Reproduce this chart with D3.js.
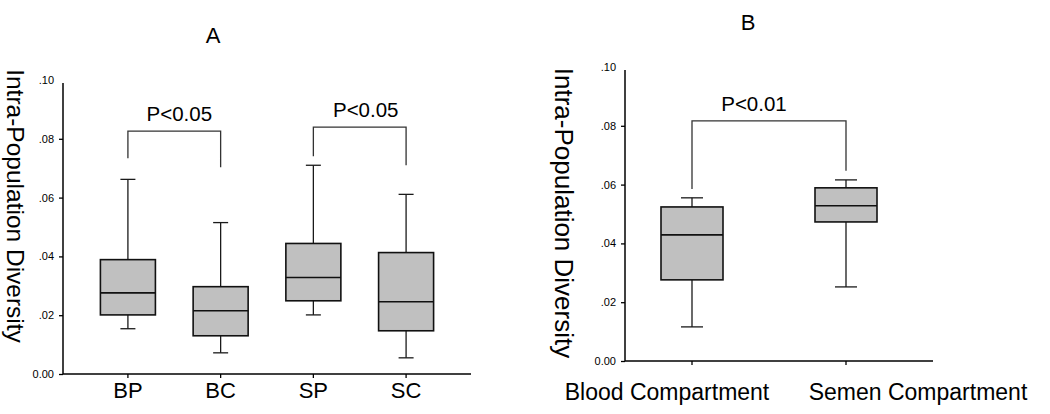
<!DOCTYPE html>
<html>
<head>
<meta charset="utf-8">
<script src="https://cdn.jsdelivr.net/npm/d3@7"></script>
<style>
  html, body { margin: 0; padding: 0; background: #fff; }
  svg { display: block; }
  text { font-family: Arial, "Liberation Sans", sans-serif; fill: #000; }
</style>
</head>
<body>
<svg id="chart" width="1050" height="414"></svg>
<script>
// ---------- Data ----------
const yTicks = [0, 0.02, 0.04, 0.06, 0.08, 0.10];
const yTickLabels = ["0.00", ".02", ".04", ".06", ".08", ".10"];

// Panel A
const catsA = ["BP", "BC", "SP", "SC"];
const lowA  = [0.0154, 0.0072, 0.0201, 0.0055];
const q1A   = [0.0201, 0.0130, 0.0249, 0.0147];
const medA  = [0.0276, 0.0215, 0.0328, 0.0246];
const q3A   = [0.0389, 0.0297, 0.0444, 0.0413];
const highA = [0.0662, 0.0515, 0.0710, 0.0611];
const bracketFromA  = ["BP", "SP"];
const bracketToA    = ["BC", "SC"];
const bracketTopA   = [0.0826, 0.0840];
const bracketLeftA  = [0.0734, 0.0741];
const bracketRightA = [0.0703, 0.0710];
const bracketLabelA = ["P<0.05", "P<0.05"];

// Panel B
const catsB = ["Blood Compartment", "Semen Compartment"];
const lowB  = [0.0116, 0.0252];
const q1B   = [0.0276, 0.0473];
const medB  = [0.0429, 0.0528];
const q3B   = [0.0524, 0.0589];
const highB = [0.0555, 0.0616];
const bracketFromB  = ["Blood Compartment"];
const bracketToB    = ["Semen Compartment"];
const bracketTopB   = [0.0817];
const bracketLeftB  = [0.0585];
const bracketRightB = [0.0647];
const bracketLabelB = ["P<0.01"];

const svg = d3.select("#chart");

function drawPanel(cfg) {
  const g = svg.append("g");
  const x = d3.scalePoint().domain(cfg.cats).range(cfg.xRange).padding(cfg.xPad);
  const y = d3.scaleLinear().domain([0, 0.10]).range([cfg.y0, cfg.y10]);

  // y axis
  const yAxis = d3.axisLeft(y).tickValues(yTicks)
    .tickFormat((d, i) => yTickLabels[i]).tickSize(4).tickPadding(5);
  const ya = g.append("g").attr("transform", `translate(${cfg.xAxis[0]},0)`).call(yAxis);
  ya.select(".domain").remove();
  ya.selectAll(".tick line").attr("stroke", "#000").attr("stroke-width", 1.3)
    .filter(d => d === 0.10).remove();
  ya.selectAll(".tick text").style("font-size", "11px")
    .attr("font-family", "Arial, 'Liberation Sans', sans-serif").attr("fill", "#000");
  g.append("line").attr("x1", cfg.xAxis[0]).attr("x2", cfg.xAxis[0])
    .attr("y1", y(0)).attr("y2", y(0.10) + cfg.axisTopGap)
    .attr("stroke", "#000").attr("stroke-width", 1.5);

  // x axis
  g.append("line").attr("x1", cfg.xAxis[0]).attr("x2", cfg.xAxis[1])
    .attr("y1", y(0)).attr("y2", y(0)).attr("stroke", "#000").attr("stroke-width", 1.5);
  g.selectAll(".xt").data(cfg.cats).join("line")
    .attr("x1", d => x(d)).attr("x2", d => x(d))
    .attr("y1", y(0)).attr("y2", y(0) + 4).attr("stroke", "#000").attr("stroke-width", 1.3);
  g.selectAll(".xl").data(cfg.cats).join("text")
    .attr("x", (d, i) => x(d) + cfg.labelDx[i]).attr("y", y(0) + cfg.labelDy)
    .attr("text-anchor", "middle").style("font-size", cfg.labelSize + "px")
    .text(d => d);

  // boxes
  const bw = cfg.boxW, cw = cfg.capW;
  cfg.cats.forEach((c, i) => {
    const cx = x(c);
    const lw = 1.3;
    g.append("line").attr("x1", cx).attr("x2", cx).attr("y1", y(cfg.high[i])).attr("y2", y(cfg.q3[i]))
      .attr("stroke", "#1a1a1a").attr("stroke-width", lw);
    g.append("line").attr("x1", cx).attr("x2", cx).attr("y1", y(cfg.q1[i])).attr("y2", y(cfg.low[i]))
      .attr("stroke", "#1a1a1a").attr("stroke-width", lw);
    g.append("line").attr("x1", cx - cw / 2).attr("x2", cx + cw / 2).attr("y1", y(cfg.high[i])).attr("y2", y(cfg.high[i]))
      .attr("stroke", "#1a1a1a").attr("stroke-width", lw);
    g.append("line").attr("x1", cx - cw / 2).attr("x2", cx + cw / 2).attr("y1", y(cfg.low[i])).attr("y2", y(cfg.low[i]))
      .attr("stroke", "#1a1a1a").attr("stroke-width", lw);
    g.append("rect").attr("x", cx - bw / 2).attr("width", bw)
      .attr("y", y(cfg.q3[i])).attr("height", y(cfg.q1[i]) - y(cfg.q3[i]))
      .attr("fill", "#c0c0c0").attr("stroke", "#111").attr("stroke-width", 1.6);
    g.append("line").attr("x1", cx - bw / 2).attr("x2", cx + bw / 2).attr("y1", y(cfg.med[i])).attr("y2", y(cfg.med[i]))
      .attr("stroke", "#111").attr("stroke-width", 1.6);
  });

  // brackets
  cfg.bFrom.forEach((f, i) => {
    const x1 = x(f), x2 = x(cfg.bTo[i]);
    const yt = y(cfg.bTop[i]);
    g.append("path")
      .attr("d", `M${x1},${y(cfg.bLeft[i])}V${yt}H${x2}V${y(cfg.bRight[i])}`)
      .attr("fill", "none").attr("stroke", "#333").attr("stroke-width", 1.3);
    g.append("text").attr("x", (x1 + x2) / 2 + cfg.pDx[i]).attr("y", yt - 10)
      .attr("text-anchor", "middle").style("font-size", "20.5px").text(cfg.bLabel[i]);
  });

  // y label
  g.append("text")
    .attr("transform", `translate(${cfg.yLabelX},${cfg.yLabelY}) rotate(90)`)
    .attr("text-anchor", "middle").attr("dominant-baseline", "central")
    .style("font-size", cfg.yLabelSize + "px").text("Intra-Population Diversity");

  // title
  g.append("text").attr("x", cfg.titleX).attr("y", cfg.titleY)
    .attr("text-anchor", "middle").style("font-size", "22px").text(cfg.title);
}

drawPanel({
  cats: catsA, low: lowA, q1: q1A, med: medA, q3: q3A, high: highA,
  bFrom: bracketFromA, bTo: bracketToA, bTop: bracketTopA, bLeft: bracketLeftA,
  bRight: bracketRightA, bLabel: bracketLabelA, pDx: [5, 6],
  xRange: [63, 471], xPad: 0.7, xAxis: [63, 471],
  y0: 374, y10: 80, axisTopGap: 3,
  boxW: 55, capW: 15,
  labelDx: [0, 0, 0, 0], labelDy: 24, labelSize: 22,
  yLabelX: 15, yLabelY: 206, yLabelSize: 24.5,
  title: "A", titleX: 213, titleY: 43
});

drawPanel({
  cats: catsB, low: lowB, q1: q1B, med: medB, q3: q3B, high: highB,
  bFrom: bracketFromB, bTo: bracketToB, bTop: bracketTopB, bLeft: bracketLeftB,
  bRight: bracketRightB, bLabel: bracketLabelB, pDx: [-15],
  xRange: [692, 846], xPad: 0, xAxis: [625, 933],
  y0: 361, y10: 67, axisTopGap: 3,
  boxW: 62, capW: 22,
  labelDx: [-25, 72], labelDy: 39, labelSize: 23,
  yLabelX: 564, yLabelY: 213, yLabelSize: 26,
  title: "B", titleX: 748, titleY: 30
});
</script>
</body>
</html>
